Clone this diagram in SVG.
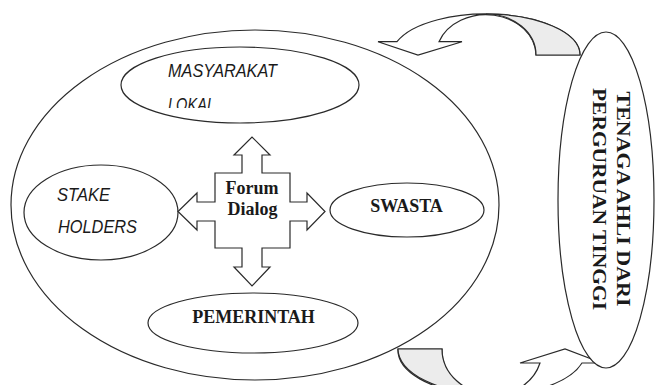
<svg xmlns="http://www.w3.org/2000/svg" width="655" height="385" viewBox="0 0 655 385">
<defs>
<style>
.ln{fill:#fff;stroke:#2a2a2a;stroke-width:1.2}
.nf{fill:none;stroke:#2a2a2a;stroke-width:1.2}
.sh{fill:#ececec;stroke:#2a2a2a;stroke-width:1.2}
.it{font-family:"Liberation Sans",Arial,sans-serif;font-style:italic;font-size:18px;fill:#1a1a1a}
.bs{font-family:"Liberation Serif","Times New Roman",serif;font-weight:bold;font-size:18px;fill:#1a1a1a}
</style>
<clipPath id="lokalClip"><rect x="150" y="90" width="100" height="18"/></clipPath>
</defs>
<rect width="655" height="385" fill="#fff"/>
<g id="connectors">
<g id="arrow-top">
<path class="ln" d="M580,55 A94,41 0 0 0 397,41.7 L378,41.7 L418,55 L462,41.7 L439,41.7 A50,41 0 0 1 536,55 Z"/>
<path class="sh" d="M536,55 A50,41 0 0 0 486,14 A94,41 0 0 1 580,55 Z"/>
</g>
<g id="arrow-bottom">
<path class="ln" d="M398,349 A94,45 0 0 0 582,363 L602,363 L565,349 L520,363 L540,363 A50,45 0 0 1 442,349 Z"/>
<path class="sh" d="M398,349 L442,349 A50,45 0 0 0 492,394 A94,45 0 0 1 398,349 Z"/>
</g>
</g>
<g id="outer">
<ellipse class="ln" cx="255" cy="205" rx="244" ry="175"/>
</g>
<g id="tenaga">
<ellipse class="ln" cx="606" cy="200" rx="48" ry="168"/>
<text class="bs" font-size="19" text-anchor="middle" textLength="215" lengthAdjust="spacingAndGlyphs" transform="translate(617,199) rotate(90)">TENAGA AHLI DARI</text>
<text class="bs" font-size="19" text-anchor="middle" textLength="222" lengthAdjust="spacingAndGlyphs" transform="translate(593,199) rotate(90)">PERGURUAN TINGGI</text>
</g>
<g id="masyarakat">
<ellipse class="ln" cx="240" cy="85" rx="119" ry="38"/>
<text class="it" x="168" y="77" textLength="109" lengthAdjust="spacingAndGlyphs">MASYARAKAT</text>
<text class="it" x="168" y="111" textLength="47" lengthAdjust="spacingAndGlyphs" clip-path="url(#lokalClip)">LOKAL</text>
</g>
<g id="stakeholders">
<ellipse class="ln" cx="101" cy="212.5" rx="77" ry="47.5"/>
<text class="it" x="57" y="200.7" textLength="53" lengthAdjust="spacingAndGlyphs">STAKE</text>
<text class="it" x="58" y="233" textLength="79" lengthAdjust="spacingAndGlyphs">HOLDERS</text>
</g>
<g id="swasta">
<ellipse class="ln" cx="407" cy="210" rx="77" ry="27"/>
<text class="bs" x="406.5" y="212" text-anchor="middle">SWASTA</text>
</g>
<g id="pemerintah">
<ellipse class="ln" cx="253" cy="323" rx="105" ry="30"/>
<text class="bs" x="253.5" y="323" text-anchor="middle">PEMERINTAH</text>
</g>
<g id="forum">
<path class="ln" d="M242,155 L234,155 L252,137 L270,155 L262,155 L262,173 L290,173 L290,202 L307,202 L307,193 L325,211.5 L307,230 L307,221 L290,221 L290,248 L262,248 L262,267 L270,267 L252,286 L234,267 L242,267 L242,248 L215,248 L215,221 L197,221 L197,230 L178,211.5 L197,193 L197,202 L215,202 L215,173 L242,173 Z"/>
<text class="bs" x="252" y="194" text-anchor="middle">Forum</text>
<text class="bs" x="252.5" y="215" text-anchor="middle">Dialog</text>
</g>
</svg>
